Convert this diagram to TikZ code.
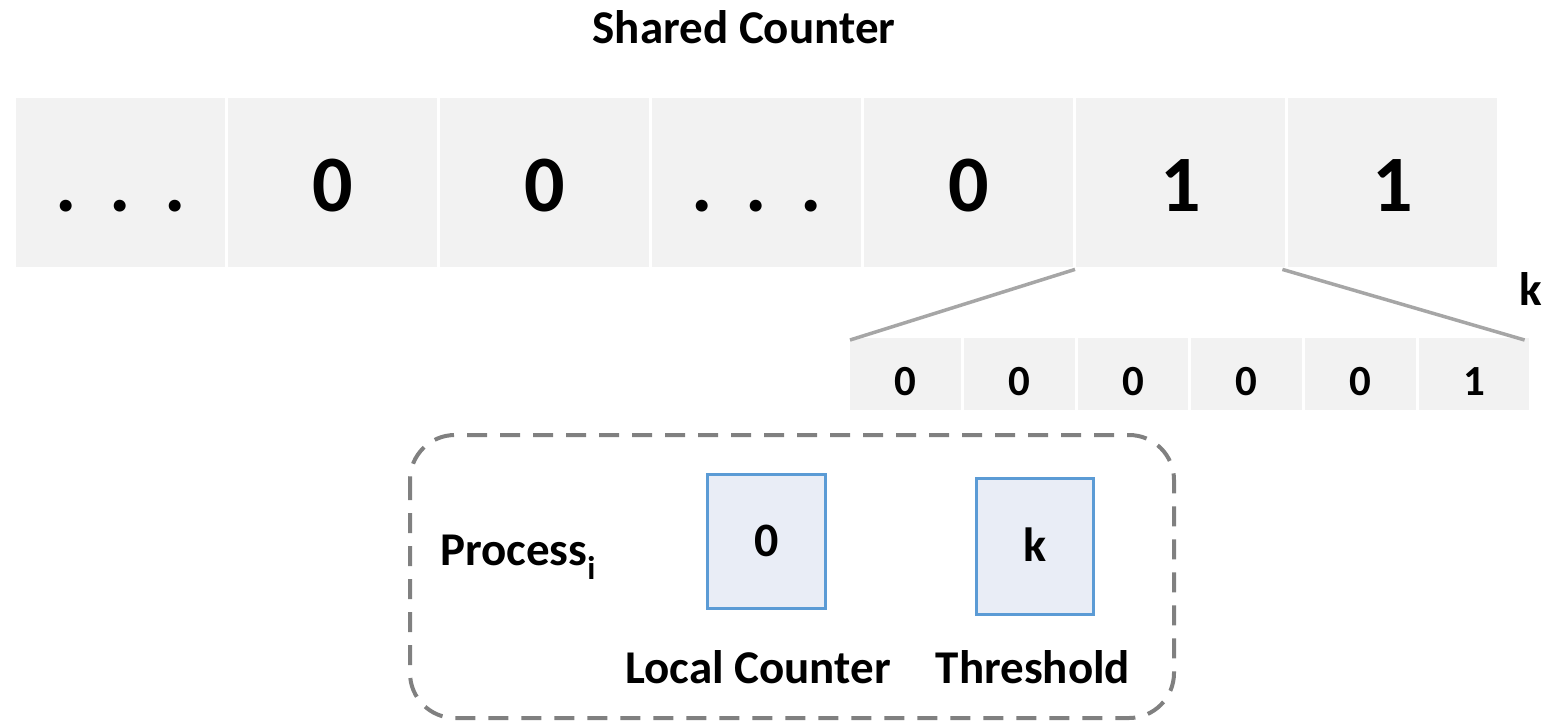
\documentclass[tikz,border=0pt]{standalone}
\usepackage{fontspec}
\setmainfont{Carlito}
\definecolor{cellgray}{HTML}{F2F2F2}
\definecolor{linegray}{HTML}{A6A6A6}
\definecolor{dashgray}{HTML}{808080}
\definecolor{boxfill}{HTML}{E9EDF6}
\definecolor{boxline}{HTML}{5B9BD5}
\begin{document}
\begin{tikzpicture}[x=1pt,y=-1pt,
  bigcell/.style={fill=cellgray,draw=none,inner sep=0pt,anchor=north west,
    minimum width=209pt,minimum height=169pt,
    font=\fontsize{80}{80}\selectfont\bfseries,text height=58pt,text depth=0pt},
  smallcell/.style={fill=cellgray,draw=none,inner sep=0pt,anchor=north west,
    minimum width=110.7pt,minimum height=72pt,
    font=\fontsize{43}{43}\selectfont\bfseries,text height=42pt,text depth=0pt},
  lbl/.style={inner sep=0pt,font=\fontsize{47}{47}\selectfont\bfseries},
  zoomline/.style={draw=linegray,line width=3.5pt},
  procbox/.style={draw=dashgray,line width=4pt,dash pattern=on 20pt off 13pt,rounded corners=45pt},
  valbox/.style={draw=boxline,fill=boxfill,line width=2.5pt,inner sep=0pt,anchor=north west,
    font=\fontsize{48}{48}\selectfont\bfseries,text height=30pt,text depth=0pt}]
\useasboundingbox (0,0) rectangle (1560,724);
% title
\node[lbl,anchor=base] (title) at (744,43) {Shared Counter};
% shared counter cells
\node[bigcell] (c1) at (16,98) {.\hspace{0.42em}.\hspace{0.42em}.};
\node[bigcell] (c2) at (228,98) {0};
\node[bigcell] (c3) at (440,98) {0};
\node[bigcell] (c4) at (652,98) {.\hspace{0.42em}.\hspace{0.42em}.};
\node[bigcell] (c5) at (864,98) {0};
\node[bigcell] (c6) at (1076,98) {1};
\node[bigcell] (c7) at (1288,98) {1};
% expanded bits
\node[smallcell] (s1) at (850,338) {0};
\node[smallcell] (s2) at (963.7,338) {0};
\node[smallcell] (s3) at (1077.4,338) {0};
\node[smallcell] (s4) at (1191.1,338) {0};
\node[smallcell] (s5) at (1304.8,338) {0};
\node[smallcell] (s6) at (1418.5,338) {1};
\node[lbl,anchor=base] (klbl) at (1531,305) {k};
\coordinate (zl) at ([xshift=-1pt,yshift=-2pt]c6.south west);
\coordinate (zr) at ([xshift=-3pt,yshift=-2pt]c6.south east);
\draw[zoomline] (zl) -- ([yshift=-2pt]s1.north west);
\draw[zoomline] (zr) -- ([xshift=-5pt,yshift=-2pt]s6.north east);
% process box
\draw[procbox] (410,435) rectangle (1174,718);
\node[lbl,anchor=base west] (proc) at (440,565) {Process\textsubscript{i}};
\node[valbox,minimum width=118pt,minimum height=134pt] (lc) at (706,473) {0};
\node[valbox,minimum width=117pt,minimum height=136pt] (th) at (975,477) {k};
\node[lbl,anchor=base] (lclbl) at (758,683) {Local Counter};
\node[lbl,anchor=base] (thlbl) at (1033,683) {Threshold};
\end{tikzpicture}
\end{document}
